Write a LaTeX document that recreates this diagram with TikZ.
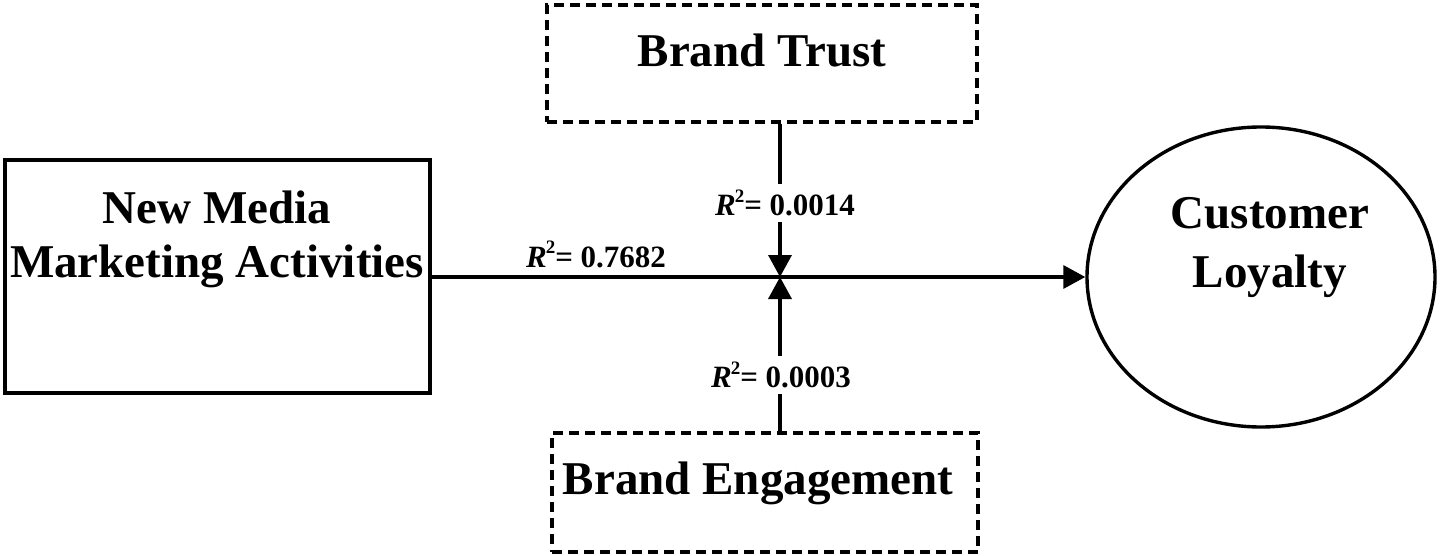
\documentclass[tikz,border=0pt]{standalone}
\usepackage{fontspec}
\setmainfont{Liberation Serif}
\usetikzlibrary{arrows.meta,shapes.geometric}
\newcommand{\rsq}{{\itshape R}\kern-0.5pt\raisebox{0.42em}{\fontsize{9.5}{10}\selectfont 2}}
\begin{document}
\begin{tikzpicture}[x=0.5pt,y=-0.5pt,
  line width=1.7pt,
  solidbox/.style={draw,rectangle,inner sep=0pt},
  dashbox/.style={draw,rectangle,inner sep=0pt,dash pattern=on 5pt off 3pt},
  big/.style={font=\fontsize{23.5}{27}\selectfont\bfseries,inner sep=0pt,anchor=base},
  rlab/.style={font=\fontsize{15.5}{18}\selectfont\bfseries,inner sep=3pt,fill=white},
  arr/.style={-{Triangle[width=11.5pt,length=11pt]}}]
\useasboundingbox (0,0) rectangle (1441,556);
% boxes
\node[solidbox,minimum width=212.5pt,minimum height=116.5pt] (nmma) at (217.5,276.5) {};
\node[dashbox,minimum width=215pt,minimum height=58.5pt] (bt) at (762,63.5) {};
\node[dashbox,minimum width=213pt,minimum height=59.5pt] (be) at (765,492.5) {};
\node[draw,ellipse,minimum width=174pt,minimum height=150pt,inner sep=0pt] (cl) at (1261,277) {};
% texts
\node[big] (t1) at (217,223) {New Media};
\node[big] (t2) at (217,277) {Marketing Activities};
\node[big] (t3) at (762,67) {Brand Trust};
\node[big] (t4) at (758,494) {Brand Engagement};
\node[big] (t5) at (1270,228) {Customer};
\node[big] (t6) at (1270,287) {Loyalty};
% connectors
\coordinate (m) at (780,277);
\draw[arr] (nmma.east |- m) -- (cl.west);
\draw[arr] (m |- bt.south) -- (m);
\draw[arr] (m |- be.north) -- (m);
% labels
\node[rlab] (l1) at (785,203) {\rsq= 0.0014};
\node[rlab] (l2) at (781,375) {\rsq= 0.0003};
\node[font=\fontsize{15.5}{18}\selectfont\bfseries,inner sep=0pt,anchor=base] (l3) at (596,267) {\rsq= 0.7682};
\end{tikzpicture}
\end{document}
